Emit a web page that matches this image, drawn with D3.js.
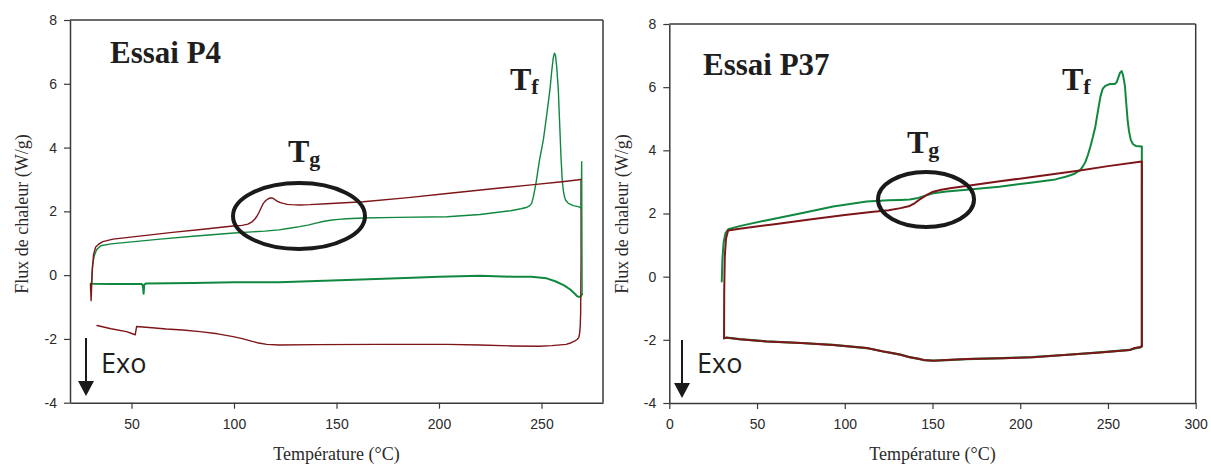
<!DOCTYPE html>
<html>
<head>
<meta charset="utf-8">
<script src="https://cdn.jsdelivr.net/npm/d3@7"></script>
<style>
  html, body { margin: 0; padding: 0; background: #fff; }
  svg { display: block; }
</style>
</head>
<body>
<div id="chart"></div>
<script>
// ---------------- DATA ----------------
// Panel titles and axis ticks
const panelTitles = ["Essai P4", "Essai P37"];
const yTicks = [-4, -2, 0, 2, 4, 6, 8];
const xTicksP4 = [50, 100, 150, 200, 250];
const xTicksP37 = [0, 50, 100, 150, 200, 250, 300];
const xLabel = "Température (°C)";
const yLabel = "Flux de chaleur (W/g)";

// Essai P4 : [Température °C, Flux W/g]
const p4RedHeat = [[30,-0.28],[30.3,-0.8],[30.8,0.1],[31.5,0.65],[32.5,0.88],[34,0.97],[36,1.05],[41,1.13],[55,1.23],[70,1.34],[85,1.44],[99.5,1.54],[104,1.56],[106.8,1.6],[109,1.68],[110.2,1.76],[111,1.83],[112,1.94],[112.8,2.05],[113.6,2.16],[114.3,2.25],[115.5,2.34],[116.7,2.39],[117.6,2.42],[118.5,2.42],[119.7,2.38],[120.8,2.33],[122.3,2.28],[124,2.25],[126,2.22],[128,2.21],[132,2.2],[137,2.21],[145,2.24],[163,2.3],[185,2.43],[204,2.56],[225,2.7],[245,2.83],[260,2.93],[269.3,3.0]];
const p4RedCool = [[269.3,3.0],[269.3,0.5],[269.1,-1.2],[268.9,-1.6],[268.6,-1.82],[268.2,-1.95],[267.5,-2.01],[266.6,-2.05],[264.5,-2.12],[262,-2.17],[255,-2.21],[249,-2.23],[236,-2.22],[220,-2.19],[204,-2.17],[171,-2.17],[140,-2.18],[122,-2.19],[116,-2.17],[112,-2.13],[108,-2.06],[104,-1.99],[99.6,-1.93],[92,-1.84],[83.4,-1.77],[75,-1.72],[67,-1.69],[60,-1.65],[52.5,-1.61],[51.8,-1.87],[47.6,-1.77],[40,-1.68],[33.2,-1.58]];
const p4GreenHeat = [[30.5,-0.28],[31,0.3],[31.8,0.6],[33,0.8],[35,0.92],[40,0.98],[64,1.13],[80,1.22],[100,1.32],[115,1.38],[122,1.42],[127,1.47],[132,1.52],[136,1.57],[140,1.63],[144,1.69],[147,1.72],[151,1.75],[155,1.77],[163,1.79],[180,1.81],[204,1.83],[220,1.9],[235,2.02],[240,2.08],[243,2.13],[244.3,2.18],[245.2,2.25],[246.2,2.5],[247.3,2.88],[249,3.6],[250.9,4.24],[252.5,5.0],[254.1,5.81],[255,6.4],[255.7,6.8],[256.3,6.96],[256.8,6.9],[257.4,6.55],[258.2,5.81],[259.5,3.72],[260.1,3.0],[260.6,2.67],[261.2,2.46],[261.8,2.35],[263.1,2.25],[265.5,2.18],[268,2.15],[269.4,2.1],[269.6,3.56],[269.8,-0.6]];
const p4GreenCool = [[269.8,-0.6],[269,-0.68],[268,-0.68],[267.2,-0.65],[266.5,-0.6],[264,-0.45],[261,-0.32],[257,-0.2],[252.5,-0.1],[245,-0.05],[236,-0.05],[220,-0.02],[200,-0.05],[187,-0.08],[155,-0.15],[122,-0.22],[100,-0.22],[80,-0.25],[57,-0.26],[56.2,-0.3],[55.9,-0.58],[55.6,-0.35],[55,-0.28],[40,-0.28],[31,-0.27],[30.2,-0.26],[30.2,-0.5]];

// Essai P37 : [Température °C, Flux W/g]
const p37GreenHeat = [[29.9,-0.15],[30.3,0.6],[31,1.1],[32,1.38],[33.6,1.5],[40,1.6],[55,1.78],[74.5,2.0],[93.4,2.22],[112.5,2.38],[125,2.42],[131.8,2.43],[137,2.44],[141,2.48],[145,2.55],[150.4,2.64],[158,2.7],[169.5,2.75],[188,2.85],[207,2.98],[220,3.08],[226.4,3.17],[231,3.26],[234.3,3.38],[235.8,3.5],[237.2,3.64],[238.6,3.86],[240,4.12],[241.4,4.42],[242.8,4.75],[244.3,5.25],[245.7,5.7],[247,5.95],[248.5,6.04],[251.1,6.1],[253.9,6.1],[255,6.16],[255.9,6.3],[256.8,6.45],[257.8,6.51],[258.5,6.4],[259.2,6.2],[259.7,6.02],[260.4,5.5],[261.2,4.96],[262,4.6],[263,4.33],[264.2,4.2],[265.8,4.14],[269.3,4.12],[269.3,1.0],[269.3,-2.2]];
const p37RedHeat = [[31.2,-1.95],[31.3,-0.5],[31.6,0.6],[32.3,1.2],[33.5,1.46],[40,1.52],[60,1.66],[80,1.81],[100,1.95],[115,2.05],[125,2.1],[131.8,2.17],[137,2.24],[140,2.33],[142.8,2.45],[147,2.6],[150.4,2.69],[155,2.75],[160,2.8],[188.4,3.02],[210,3.18],[234,3.36],[250,3.5],[269.3,3.65],[269.3,1.0],[269.3,-2.2]];
const p37GreenCool = [[269.3,-2.2],[268.5,-2.24],[265.3,-2.27],[262.5,-2.32],[245.4,-2.4],[225,-2.48],[207,-2.55],[190,-2.58],[169.5,-2.61],[155,-2.65],[150.4,-2.66],[145,-2.64],[142.8,-2.61],[137,-2.55],[131.8,-2.47],[127,-2.42],[122,-2.37],[112.5,-2.26],[93.4,-2.16],[75,-2.1],[55.5,-2.05],[40,-1.98],[32.7,-1.93],[31.2,-1.95]];
const p37RedCool = [[269.3,-2.2],[268.5,-2.23],[265.3,-2.26],[262.5,-2.32],[245.4,-2.4],[225,-2.48],[207,-2.55],[190,-2.58],[169.5,-2.61],[155,-2.65],[150.4,-2.66],[145,-2.64],[142.8,-2.61],[137,-2.55],[131.8,-2.47],[127,-2.42],[122,-2.37],[112.5,-2.26],[93.4,-2.16],[75,-2.1],[55.5,-2.05],[40,-1.98],[32.7,-1.93],[31.2,-1.95]];

// ---------------- DRAW ----------------
const W = 1211, H = 464;
const RED = "#7e1518", GREEN = "#10883f", AXIS = "#3a3a3a", TXT = "#2a2a2a";

const svg = d3.select("#chart").append("svg").attr("width", W).attr("height", H);

const panels = [
  { title: panelTitles[0], xDomain: [20, 280], xRange: [70, 603], yRange: [402.7, 20], xTicks: xTicksP4,
    series: [
      { d: p4GreenCool, c: GREEN, w: 2 },
      { d: p4RedCool, c: RED, w: 1.4 },
      { d: p4GreenHeat, c: GREEN, w: 1.4 },
      { d: p4RedHeat, c: RED, w: 1.4 }
    ],
    titlePos: [110, 63], ylabX: 27.5, xlabY: 460,
    tg: [288, 162], tf: [510, 90], ell: [299, 216, 66, 33], exo: [86, 338, 396]
  },
  { title: panelTitles[1], xDomain: [0, 300], xRange: [669.3, 1195.7], yRange: [403, 24], xTicks: xTicksP37,
    series: [
      { d: p37GreenCool, c: GREEN, w: 2.2 },
      { d: p37RedCool, c: RED, w: 2 },
      { d: p37GreenHeat, c: GREEN, w: 2 },
      { d: p37RedHeat, c: RED, w: 2 }
    ],
    titlePos: [703, 75], ylabX: 628, xlabY: 460,
    tg: [907, 153], tf: [1062, 90], ell: [926, 199.5, 48, 27.5], exo: [682, 340, 398]
  }
];

panels.forEach(p => {
  const x = d3.scaleLinear().domain(p.xDomain).range(p.xRange);
  const y = d3.scaleLinear().domain([-4, 8]).range(p.yRange);
  const g = svg.append("g");

  // frame top & right
  g.append("line").attr("x1", p.xRange[0]).attr("x2", p.xRange[1]).attr("y1", p.yRange[1]).attr("y2", p.yRange[1])
    .attr("stroke", AXIS).attr("stroke-width", 1.5);
  g.append("line").attr("x1", p.xRange[1]).attr("x2", p.xRange[1]).attr("y1", p.yRange[1]).attr("y2", p.yRange[0])
    .attr("stroke", AXIS).attr("stroke-width", 1.5);

  // axes
  const xa = g.append("g").attr("transform", `translate(0,${p.yRange[0]})`)
    .call(d3.axisBottom(x).tickValues(p.xTicks).tickFormat(d => String(d)).tickSize(6).tickSizeOuter(0).tickPadding(10));
  const ya = g.append("g").attr("transform", `translate(${p.xRange[0]},0)`)
    .call(d3.axisLeft(y).tickValues(yTicks).tickFormat(d => String(d)).tickSize(6).tickSizeOuter(0).tickPadding(7));
  [xa, ya].forEach(a => {
    a.select(".domain").attr("stroke", AXIS).attr("stroke-width", 1.5);
    a.selectAll(".tick line").attr("stroke", AXIS).attr("stroke-width", 1.2);
    a.selectAll(".tick text").attr("fill", TXT).attr("font-family", "'Liberation Sans', Arial, sans-serif").attr("font-size", 14);
  });

  // curves
  const line = d3.line().x(d => x(d[0])).y(d => y(d[1])).curve(d3.curveLinear);
  p.series.forEach(s => {
    g.append("path").datum(s.d).attr("d", line).attr("fill", "none")
      .attr("stroke", s.c).attr("stroke-width", s.w).attr("stroke-linejoin", "round").attr("stroke-linecap", "round");
  });

  // axis labels
  g.append("text").attr("x", (p.xRange[0] + p.xRange[1]) / 2).attr("y", p.xlabY).attr("text-anchor", "middle")
    .attr("font-family", "'Liberation Serif', 'Times New Roman', serif").attr("font-size", 18).attr("fill", TXT).text(xLabel);
  g.append("text").attr("transform", `translate(${p.ylabX},214) rotate(-90)`).attr("text-anchor", "middle")
    .attr("font-family", "'Liberation Serif', 'Times New Roman', serif").attr("font-size", 18).attr("fill", TXT).text(yLabel);

  // title
  g.append("text").attr("x", p.titlePos[0]).attr("y", p.titlePos[1])
    .attr("font-family", "'Liberation Serif', 'Times New Roman', serif").attr("font-weight", "bold").attr("font-size", 31)
    .attr("fill", "#1e1e1e").text(p.title);

  // Tg / Tf labels
  [[p.tg, "g"], [p.tf, "f"]].forEach(([pos, sub]) => {
    const t = g.append("text").attr("x", pos[0]).attr("y", pos[1])
      .attr("font-family", "'Liberation Serif', 'Times New Roman', serif").attr("font-weight", "bold").attr("fill", "#1e1e1e");
    t.append("tspan").attr("font-size", 32).text("T");
    t.append("tspan").attr("font-size", 22).attr("dy", 4).text(sub);
  });

  // ellipse
  g.append("ellipse").attr("cx", p.ell[0]).attr("cy", p.ell[1]).attr("rx", p.ell[2]).attr("ry", p.ell[3])
    .attr("fill", "none").attr("stroke", "#1a1a1a").attr("stroke-width", 4);

  // Exo arrow
  const [ax, ay0, ay1] = p.exo;
  g.append("line").attr("x1", ax).attr("x2", ax).attr("y1", ay0).attr("y2", ay1 - 12)
    .attr("stroke", "#1a1a1a").attr("stroke-width", 2);
  g.append("path").attr("d", `M${ax - 8},${ay1 - 15} L${ax + 8},${ay1 - 15} L${ax},${ay1} Z`).attr("fill", "#1a1a1a");
  g.append("text").attr("x", ax + 15).attr("y", 373).attr("font-family", "'Open Sans', sans-serif")
    .attr("font-size", 27).attr("fill", "#1e1e1e").text("Exo");
});
</script>
</body>
</html>
